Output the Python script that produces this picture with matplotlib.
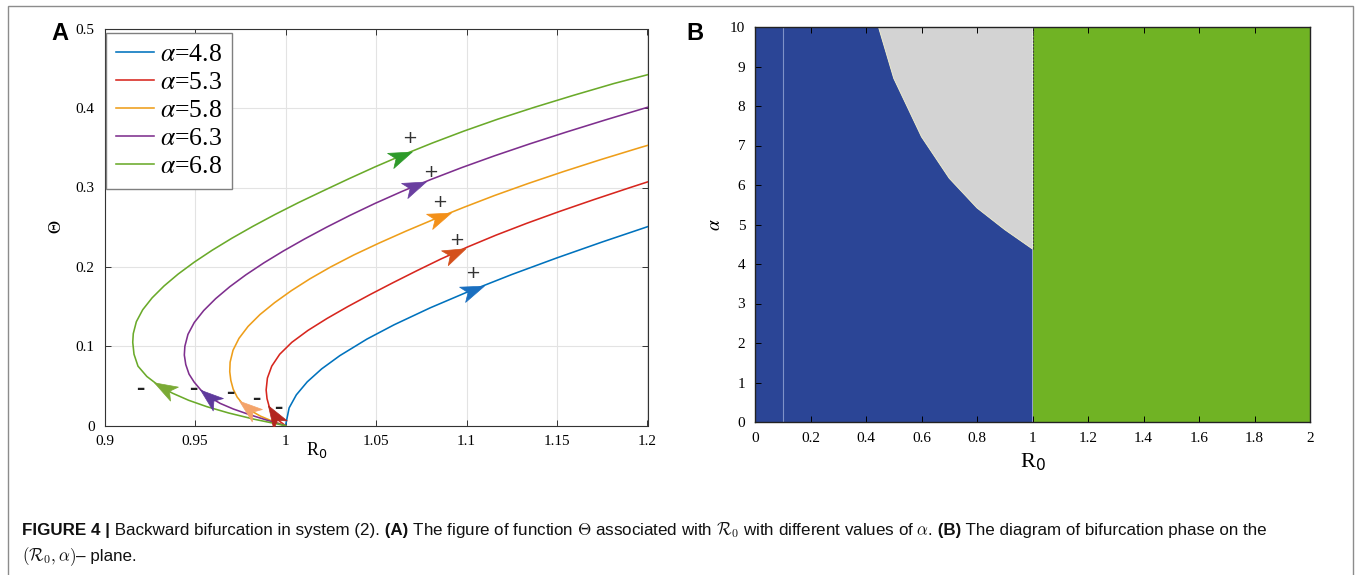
import matplotlib
matplotlib.use("Agg")
import matplotlib.pyplot as plt
import numpy as np
from matplotlib.path import Path
from matplotlib.patches import Rectangle
from matplotlib.font_manager import FontProperties

# ---------------- data ----------------
alphas = ["4.8", "5.3", "5.8", "6.3", "6.8"]
line_colors = ["#0072BD", "#D7261E", "#EE9E1A", "#7E2F8E", "#6AAA2A"]

# each curve starts at (R0=1, Theta=0), runs along the lower branch to the turning point, then up
blue_theta = [0, 0.0224, 0.0389, 0.0552, 0.0716, 0.0882, 0.1091, 0.1271, 0.1485, 0.1679,
              0.1904, 0.2114, 0.2314, 0.2506]
blue_r0 = [1.0, 1.002, 1.006, 1.012, 1.02, 1.03, 1.045, 1.06, 1.08, 1.1,
           1.125, 1.15, 1.175, 1.2]

red_theta = [0, 0.007, 0.015, 0.024, 0.034, 0.045, 0.06, 0.075, 0.09, 0.105, 0.12, 0.135, 0.15,
             0.165, 0.18, 0.195, 0.21, 0.225, 0.24, 0.255, 0.27, 0.285, 0.30, 0.307]
red_r0 = [1.0, 0.996, 0.9928, 0.991, 0.9898, 0.9893, 0.9900, 0.9924, 0.9968, 1.0035, 1.0124, 1.0229,
          1.0344, 1.0466, 1.0593, 1.0724, 1.0859, 1.1005, 1.1163, 1.1334, 1.1516, 1.1707, 1.1905, 1.2]

orange_theta = [0, 0.006, 0.012, 0.019, 0.027, 0.036, 0.046, 0.057, 0.068, 0.08, 0.095, 0.11, 0.125,
                0.14, 0.155, 0.17, 0.185, 0.20, 0.215, 0.23, 0.245, 0.26, 0.275, 0.29, 0.305,
                0.32, 0.335, 0.35, 0.353]
orange_r0 = [1.0, 0.9925, 0.9862, 0.9808, 0.9765, 0.9733, 0.9711, 0.9698, 0.9692, 0.9694, 0.9710,
             0.9743, 0.9793, 0.9859, 0.9940, 1.0032, 1.0135, 1.0250, 1.0377, 1.0517, 1.0665, 1.0821,
             1.0985, 1.1156, 1.1340, 1.1535, 1.1740, 1.1955, 1.2]

purple_theta = [0, 0.007, 0.014, 0.021, 0.028, 0.036, 0.045, 0.055, 0.065, 0.077, 0.089, 0.10,
                0.115, 0.13, 0.145, 0.16, 0.175, 0.19, 0.205, 0.22, 0.235, 0.25, 0.265, 0.28,
                0.295, 0.31, 0.325, 0.34, 0.355, 0.37, 0.385, 0.401]
purple_r0 = [1.0, 0.9897, 0.9800, 0.9712, 0.9640, 0.9580, 0.9532, 0.9495, 0.9467, 0.9449, 0.9441,
             0.9444, 0.9461, 0.9496, 0.9548, 0.9614, 0.9692, 0.9781, 0.9880, 0.9988, 1.0104,
             1.0227, 1.0357, 1.0495, 1.0643, 1.0802, 1.0973, 1.1156, 1.1350, 1.1554, 1.1766, 1.2]

green_theta = [0, 0.008, 0.016, 0.024, 0.032, 0.041, 0.051, 0.062, 0.075, 0.09, 0.105, 0.116,
               0.131, 0.146, 0.161, 0.176, 0.191, 0.206, 0.221, 0.236, 0.251, 0.266, 0.281,
               0.296, 0.311, 0.326, 0.341, 0.356, 0.371, 0.386, 0.401, 0.416, 0.431, 0.442]
green_r0 = [1.0, 0.9830, 0.9686, 0.9565, 0.9465, 0.9375, 0.9297, 0.9234, 0.9185, 0.9163, 0.9156,
            0.9159, 0.9176, 0.9211, 0.9263, 0.9329, 0.9407, 0.9496, 0.9595, 0.9703, 0.9819,
            0.9942, 1.0072, 1.0210, 1.0350, 1.0495, 1.0648, 1.0811, 1.0985, 1.1172, 1.1375,
            1.1590, 1.1815, 1.2]

curves_theta = [blue_theta, red_theta, orange_theta, purple_theta, green_theta]
curves_r0 = [blue_r0, red_r0, orange_r0, purple_r0, green_r0]

# arrows: Theta position on the upper (+) and lower (-) branch
up_arrow_theta = [0.171, 0.218, 0.263, 0.302, 0.340]
up_arrow_colors = ["#1A6FC0", "#D4501C", "#F39019", "#6A3FA0", "#2E9A2A"]
low_arrow_theta = [None, 0.0135, 0.022, 0.0365, 0.047]
low_arrow_colors = [None, "#B3261E", "#F4A46B", "#5E3A9C", "#7AAA35"]

# stability signs
plus_r0 = [1.1032, 1.0946, 1.0854, 1.080, 1.0684]
plus_theta = [0.1917, 0.2344, 0.2818, 0.3195, 0.3627]
minus_r0 = [0.996, 0.984, 0.9693, 0.949, 0.9196]
minus_theta = [0.022, 0.033, 0.0407, 0.0457, 0.0457]

# panel B: boundary of the bistable region
bnd_r0 = [0.445, 0.5, 0.6, 0.7, 0.8, 0.9, 1.0]
bnd_alpha = [10, 8.7, 7.22, 6.17, 5.42, 4.87, 4.38]

W, H = 1356, 575
serif = "Liberation Serif"

fig = plt.figure(figsize=(W / 100, H / 100), dpi=100)


def px_axes(left, top, right, bottom):
    return fig.add_axes([left / W, 1 - bottom / H, (right - left) / W, (bottom - top) / H])


def head_path(angle):
    v = np.array([[1.0, 0], [-1, 0.7], [-0.5, 0], [-1, -0.7], [1.0, 0]])
    a = np.radians(angle)
    rot = np.array([[np.cos(a), -np.sin(a)], [np.sin(a), np.cos(a)]])
    return Path(v @ rot.T, [Path.MOVETO, Path.LINETO, Path.LINETO, Path.LINETO, Path.CLOSEPOLY])


def arrow_on(ax, th_seg, r_seg, th, color, size=20):
    r = np.interp(th, th_seg, r_seg)
    r2 = np.interp(th + 0.004, th_seg, r_seg)
    p0 = ax.transData.transform((r, th))
    p1 = ax.transData.transform((r2, th + 0.004))
    ang = np.degrees(np.arctan2(p1[1] - p0[1], p1[0] - p0[0]))
    ax.plot(r, th, marker=head_path(ang), ms=size, color=color, mec=color, mew=0.5, zorder=5)


# ---------------- panel A ----------------
axA = px_axes(104.5, 28.7, 647.5, 425.7)
axA.set_xlim(0.9, 1.2)
axA.set_ylim(0, 0.5)
axA.set_xticks([0.9, 0.95, 1.0, 1.05, 1.1, 1.15, 1.2])
axA.set_yticks([0, 0.1, 0.2, 0.3, 0.4, 0.5])
axA.xaxis.set_major_formatter(plt.FuncFormatter(lambda v, p: "%g" % round(v, 3)))
axA.yaxis.set_major_formatter(plt.FuncFormatter(lambda v, p: "%g" % round(v, 3)))
axA.grid(True, color="#e3e3e3", lw=0.8)
axA.set_axisbelow(True)
axA.tick_params(direction="in", top=True, right=True, length=4, width=0.7, color="#333333",
                labelsize=11, pad=7)
for lab in axA.get_xticklabels() + axA.get_yticklabels():
    lab.set_fontfamily(serif)
for s in axA.spines.values():
    s.set_color("#333333")
    s.set_linewidth(0.8)

for th, r, c, a in zip(curves_theta, curves_r0, line_colors, alphas):
    axA.plot(r, th, color=c, lw=1.15, label=r"$\alpha$=" + a, zorder=3)

for i in range(5):
    th = np.array(curves_theta[i])
    r = np.array(curves_r0[i])
    k = int(np.argmin(r))
    arrow_on(axA, th[k:], r[k:], up_arrow_theta[i], up_arrow_colors[i])
    if low_arrow_theta[i] is not None:
        arrow_on(axA, th[:k + 1], r[:k + 1], low_arrow_theta[i], low_arrow_colors[i])

for x, y in zip(plus_r0, plus_theta):
    axA.text(x, y, "+", ha="center", va="center", fontsize=13, color="#333333", family="DejaVu Sans")
for x, y in zip(minus_r0, minus_theta):
    axA.text(x, y, "\u2013", ha="center", va="center", fontsize=12, color="#222222",
             family="DejaVu Sans", fontweight="bold")

leg_font = FontProperties(family=serif, size=18.5, math_fontfamily="stix")
axA.legend(loc="upper left", bbox_to_anchor=(0.003, 0.99), borderaxespad=0, prop=leg_font,
           fancybox=False, edgecolor="#7f7f7f", framealpha=1, handlelength=1.45,
           labelspacing=0.2, handletextpad=0.25, borderpad=0.4)

axA.set_xlabel(r"R$_0$", family=serif, fontsize=13)
axA.xaxis.set_label_coords(0.39, -0.035)
axA.set_ylabel(r"$\Theta$", fontsize=13, labelpad=8, math_fontfamily="stix")
fig.text(60 / W, 1 - 33 / H, "A", fontsize=17, fontweight="bold", family="Liberation Sans",
         ha="center", va="center")

# ---------------- panel B ----------------
axB = px_axes(755, 27, 1310, 422)
axB.set_xlim(0, 2)
axB.set_ylim(0, 10)
blue_x = np.concatenate([[0, 1], bnd_r0[::-1], [0]])
blue_y = np.concatenate([[0, 0], bnd_alpha[::-1], [10]])
axB.fill(blue_x, blue_y, color="#2B4596", lw=0, zorder=1)
gray_x = np.concatenate([bnd_r0, [1.0]])
gray_y = np.concatenate([bnd_alpha, [10]])
axB.fill(gray_x, gray_y, color="#D3D3D3", lw=0, zorder=1)
axB.plot(bnd_r0, bnd_alpha, color="#e8e6c8", lw=0.7, zorder=2)
axB.axvspan(1.0, 2.0, color="#70B324", lw=0, zorder=1)
axB.plot([1.0, 1.0], [bnd_alpha[-1], 10], color="#444444", lw=0.8, ls=(0, (2, 1)), zorder=2)
axB.axvline(0.1, color="#7f92c8", lw=0.8, zorder=2)

axB.set_xticks(np.arange(0, 2.01, 0.2))
axB.set_yticks(range(0, 11))
axB.xaxis.set_major_formatter(plt.FuncFormatter(lambda v, p: "%g" % round(v, 2)))
axB.tick_params(direction="in", top=True, length=4, width=0.7, labelsize=11, pad=7)
for lab in axB.get_xticklabels() + axB.get_yticklabels():
    lab.set_fontfamily(serif)
for s in axB.spines.values():
    s.set_color("#222222")
    s.set_linewidth(1.0)
    s.set_zorder(4)
axB.set_xlabel(r"R$_0$", family=serif, fontsize=16, labelpad=5)
axB.set_ylabel(r"$\alpha$", fontsize=14, labelpad=4, math_fontfamily="stix")
fig.text(695 / W, 1 - 33 / H, "B", fontsize=17, fontweight="bold", family="Liberation Sans",
         ha="center", va="center")

# ---------------- caption ----------------
cap_family = "Liberation Sans"
line1 = [("FIGURE 4 |", "bold"), (" Backward bifurcation in system (2).", "normal"),
         (" (A)", "bold"),
         (" The figure of function $\\Theta$ associated with $\\mathcal{R}_0$ with different "
          "values of $\\alpha$.", "normal"),
         (" (B)", "bold"), (" The diagram of bifurcation phase on the", "normal")]
line2 = [("$(\\mathcal{R}_0,\\alpha)$", "normal"), ("\u2013 plane.", "normal")]

renderer = fig.canvas.get_renderer()


def draw_line(parts, x0, y, size):
    x = x0
    arts = []
    for txt, wt in parts:
        t = fig.text(x / W, 1 - y / H, txt, fontsize=size, fontweight=wt, family=cap_family,
                     va="baseline", ha="left", math_fontfamily="cm", color="#111111")
        bb = t.get_window_extent(renderer)
        x += bb.width
        arts.append(t)
    return x - x0, arts


w, arts = draw_line(line1, 22, 535, 10.5)
for a in arts:
    a.remove()
size = min(10.5 * 1256 / w, 12.4)
draw_line(line1, 22, 535, size)
draw_line(line2, 22, 561, size)

fig.patches.append(Rectangle((8 / W, -0.01), (1353 - 8) / W, (H - 6) / H + 0.01,
                             transform=fig.transFigure, fill=False, ec="#8c8c8c", lw=1))

fig.savefig("out.png", dpi=100)
